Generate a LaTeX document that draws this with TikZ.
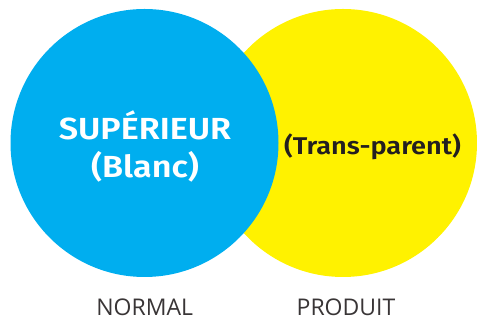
\documentclass[tikz,border=0pt]{standalone}
\usepackage{fontspec}
\setmainfont{Fira Sans}
\newfontfamily\widefont[FakeStretch=1.12, BoldFont={Fira Sans SemiBold}]{Fira Sans}
\newfontfamily\labelfont{Open Sans}
\definecolor{cblue}{HTML}{00AEEF}
\definecolor{cyellow}{HTML}{FFF200}
\definecolor{ctext}{HTML}{231F20}
\begin{document}
\begin{tikzpicture}[x=1pt,y=1pt,
  lbl/.style={font=\labelfont\fontsize{23}{26}\selectfont, text=ctext!90, inner sep=0pt, anchor=base},
  big/.style={inner sep=0pt, text=white, anchor=base, font=\widefont\fontsize{30.5}{36}\selectfont\bfseries}]
\useasboundingbox (0,0) rectangle (477,320);
\fill[cyellow] (343,177) circle (134);
\fill[cblue] (144.5,177) circle (134);
\node[big] (sup) at (145,180.7) {SUPÉRIEUR};
\node[big] (blanc) at (145,142.7) {(Blanc)};
\node[inner sep=0pt, anchor=base, text=ctext, font=\widefont\fontsize{24.2}{29}\selectfont\bfseries] (tp) at (372.5,165.7) {(Trans-parent)};
\node[lbl] (normal) at (144.7,4) {NORMAL};
\node[lbl] (produit) at (346,4) {PRODUIT};
\end{tikzpicture}
\end{document}
